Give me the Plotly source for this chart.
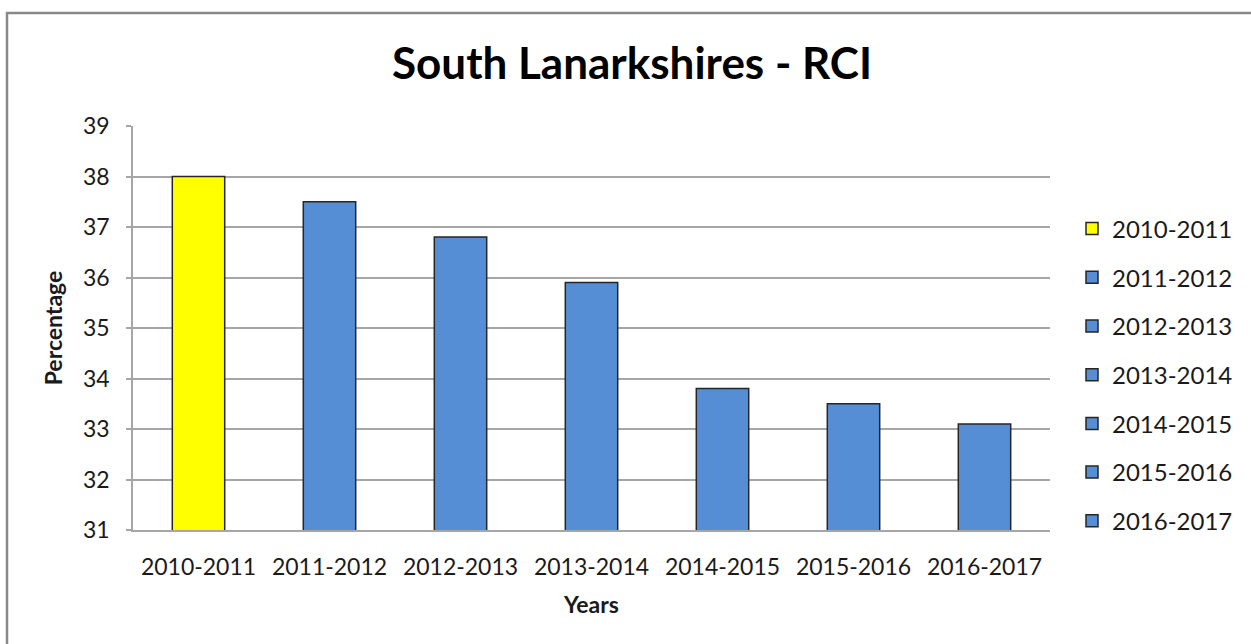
import plotly.graph_objects as go

categories = ["2010-2011", "2011-2012", "2012-2013", "2013-2014", "2014-2015", "2015-2016", "2016-2017"]
values = [38.0, 37.5, 36.8, 35.9, 33.8, 33.5, 33.1]
colors = ["#FFFF00", "#558ED5", "#558ED5", "#558ED5", "#558ED5", "#558ED5", "#558ED5"]
y_ticks = [31, 32, 33, 34, 35, 36, 37, 38, 39]

W, H = 1251, 644
L, R, T, B = 133, 1050, 126, 530

fig = go.Figure()
for i, (c, v, col) in enumerate(zip(categories, values, colors)):
    fig.add_trace(go.Bar(
        x=[c], y=[v], name=c, width=0.4,
        marker=dict(color=col, line=dict(color="#262626", width=1.5)),
        legendgroup=f"g{i}",
    ))

font_family = "Lato, 'Open Sans', sans-serif"
pw, ph = R - L, B - T

fig.update_layout(
    width=W, height=H,
    margin=dict(l=L, r=W - R, t=T, b=H - B, autoexpand=False),
    paper_bgcolor="white", plot_bgcolor="white",
    barmode="overlay",
    showlegend=True,
    font=dict(family=font_family, color="#1a1a1a", size=23),
    title=dict(text="<b>South Lanarkshires - RCI</b>", x=632 / W, xanchor="center",
               y=1 - 64 / H, yanchor="middle", yref="container",
               font=dict(size=44, color="black", family=font_family)),
    legend=dict(x=(1072 - L) / pw, xanchor="left", y=(B - 375) / ph, yanchor="middle",
                font=dict(size=24, color="#1a1a1a"), tracegroupgap=14.5,
                bgcolor="rgba(0,0,0,0)", itemwidth=30),
    xaxis=dict(type="category", categoryorder="array", categoryarray=categories,
               showline=True, linecolor="#a6a6a6", linewidth=1.5, showgrid=False,
               ticks="", tickfont=dict(size=23), automargin=False, ticklabelstandoff=16,
               title=dict(text="<b>Years</b>", font=dict(size=23, color="#1a1a1a"), standoff=18)),
    yaxis=dict(range=[31, 39], tickvals=y_ticks,
               showline=True, linecolor="#a6a6a6", linewidth=1.5,
               showgrid=True, gridcolor="#a6a6a6", gridwidth=1.5,
               ticks="outside", ticklen=5, tickcolor="#a6a6a6", tickwidth=1.5,
               tickfont=dict(size=23), zeroline=False, automargin=False, ticklabelstandoff=12,
               title=dict(text="<b>Percentage</b>", font=dict(size=23, color="#1a1a1a"), standoff=14)),
)

fig.add_shape(type="rect", xref="paper", yref="paper",
              x0=(7 - L) / pw, x1=(W + 20 - L) / pw,
              y0=(B - (H + 20)) / ph, y1=(B - 13) / ph,
              line=dict(color="#888888", width=2.5), fillcolor="rgba(0,0,0,0)", layer="below")

fig.write_html("out.html", config={"displayModeBar": False},
               post_script="document.body.style.margin='0';document.body.style.overflow='hidden';")
